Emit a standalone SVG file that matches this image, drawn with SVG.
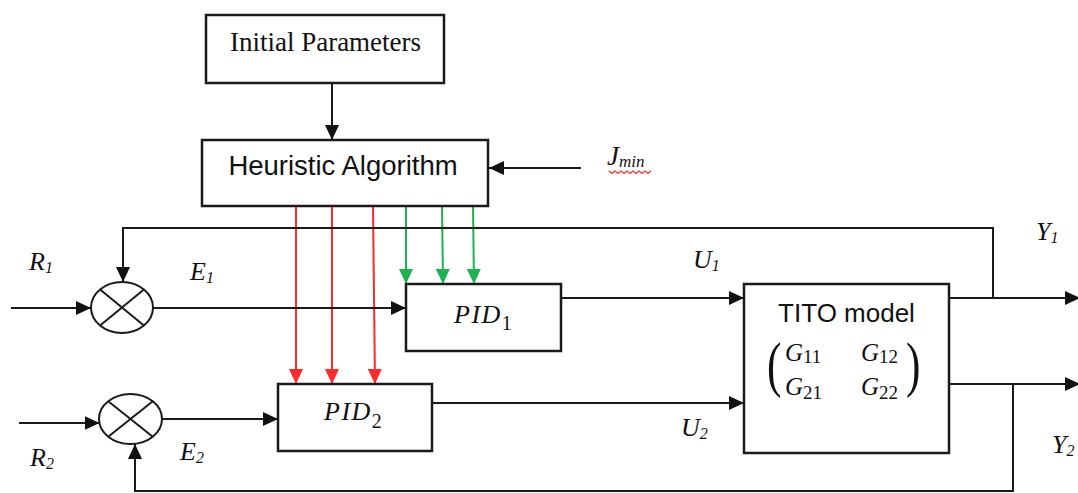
<svg xmlns="http://www.w3.org/2000/svg" width="1078" height="493" viewBox="0 0 1078 493">
<style>
.box{fill:#fff;stroke:#1a1a1a;stroke-width:2.5}
.ln{fill:none;stroke:#1a1a1a;stroke-width:2}
.red{fill:none;stroke:#ff2a2a;stroke-width:2}
.grn{fill:none;stroke:#1db350;stroke-width:2}
.serif{font-family:"Liberation Serif","Times New Roman",serif;fill:#111}
.sans{font-family:"Liberation Sans",Arial,sans-serif;fill:#111}
.it{font-style:italic}
</style>
<defs>
<marker id="ab" viewBox="0 0 15 14" refX="15" refY="7" markerWidth="15" markerHeight="14" orient="auto" markerUnits="userSpaceOnUse"><path d="M0,0 L15,7 L0,14 z" fill="#111"/></marker>
<marker id="ar" viewBox="0 0 15 14" refX="15" refY="7" markerWidth="15" markerHeight="14" orient="auto" markerUnits="userSpaceOnUse"><path d="M0,0 L15,7 L0,14 z" fill="#ff2a2a"/></marker>
<marker id="ag" viewBox="0 0 15 14" refX="15" refY="7" markerWidth="15" markerHeight="14" orient="auto" markerUnits="userSpaceOnUse"><path d="M0,0 L15,7 L0,14 z" fill="#1db350"/></marker>
</defs>
<rect width="1078" height="493" fill="#fff"/>

<g id="connectors">
<line class="ln" x1="332" y1="83" x2="332" y2="140" marker-end="url(#ab)"/>
<line class="ln" x1="581" y1="168" x2="489" y2="168" marker-end="url(#ab)"/>
<line class="red" x1="296" y1="206" x2="296" y2="384" marker-end="url(#ar)"/>
<line class="red" x1="332" y1="206" x2="332" y2="384" marker-end="url(#ar)"/>
<line class="red" x1="373" y1="206" x2="375" y2="384" marker-end="url(#ar)"/>
<line class="grn" x1="406" y1="206" x2="406" y2="284" marker-end="url(#ag)"/>
<line class="grn" x1="442" y1="206" x2="443" y2="284" marker-end="url(#ag)"/>
<line class="grn" x1="473" y1="206" x2="474" y2="284" marker-end="url(#ag)"/>
<line class="ln" x1="11" y1="308" x2="91" y2="308" marker-end="url(#ab)"/>
<line class="ln" x1="153" y1="308" x2="406" y2="308" marker-end="url(#ab)"/>
<line class="ln" x1="19" y1="423" x2="99.5" y2="423" marker-end="url(#ab)"/>
<line class="ln" x1="162" y1="419" x2="278" y2="419" marker-end="url(#ab)"/>
<line class="ln" x1="561" y1="298" x2="744" y2="298" marker-end="url(#ab)"/>
<line class="ln" x1="432" y1="403" x2="744" y2="403" marker-end="url(#ab)"/>
<line class="ln" x1="949" y1="298" x2="1080" y2="298" marker-end="url(#ab)"/>
<line class="ln" x1="949" y1="384" x2="1080" y2="384" marker-end="url(#ab)"/>
<path class="ln" d="M993,298 V228 H123 V282" marker-end="url(#ab)"/>
<path class="ln" d="M1013,384 V491 H135 V444" marker-end="url(#ab)"/>
</g>

<g id="initial-parameters">
<rect class="box" x="206" y="15" width="238" height="68"/>
<text class="serif" x="325.5" y="51" font-size="27" text-anchor="middle">Initial Parameters</text>
</g>

<g id="heuristic-algorithm">
<rect class="box" x="202" y="140" width="286" height="66"/>
<text class="sans" x="343" y="175" font-size="27.5" text-anchor="middle">Heuristic Algorithm</text>
</g>

<g id="jmin">
<text class="serif it" x="607" y="165" font-size="27">J<tspan font-size="17" dy="2">min</tspan></text>
<path d="M609,171 l3,2.5 l3,-2.5 l3,2.5 l3,-2.5 l3,2.5 l3,-2.5 l3,2.5 l3,-2.5 l3,2.5 l3,-2.5 l3,2.5 l3,-2.5 l3,2.5 l3,-2.5" fill="none" stroke="#ff2a2a" stroke-width="1.2"/>
</g>

<g id="sum1">
<ellipse class="ln" cx="122" cy="307.5" rx="31" ry="25.5"/>
<line class="ln" x1="100.1" y1="289.5" x2="143.9" y2="325.5"/>
<line class="ln" x1="100.1" y1="325.5" x2="143.9" y2="289.5"/>
</g>

<g id="sum2">
<ellipse class="ln" cx="130.5" cy="419" rx="31.5" ry="25"/>
<line class="ln" x1="108.2" y1="401.3" x2="152.8" y2="436.7"/>
<line class="ln" x1="108.2" y1="436.7" x2="152.8" y2="401.3"/>
</g>

<g id="pid1">
<rect class="box" x="406" y="284" width="155" height="67"/>
<text class="serif it" x="454" y="323" font-size="26" letter-spacing="1.5">PID<tspan font-style="normal" font-size="20" dy="7">1</tspan></text>
</g>

<g id="pid2">
<rect class="box" x="278" y="384" width="154" height="67"/>
<text class="serif it" x="324" y="420" font-size="26" letter-spacing="1.5">PID<tspan font-style="normal" font-size="20" dy="8">2</tspan></text>
</g>

<g id="tito-model">
<rect class="box" x="744" y="284" width="205" height="169"/>
<text class="sans" x="846.5" y="322" font-size="26" text-anchor="middle">TITO model</text>
<text class="serif" x="767" y="385" font-size="62" transform="translate(767,385) scale(0.7,1) translate(-767,-385)">(</text>
<text class="serif" x="906" y="385" font-size="62" transform="translate(906,385) scale(0.7,1) translate(-906,-385)">)</text>
<text class="serif it" x="785" y="361" font-size="25">G<tspan font-style="normal" font-size="19" dy="2">11</tspan></text>
<text class="serif it" x="861" y="361" font-size="25">G<tspan font-style="normal" font-size="19" dy="2">12</tspan></text>
<text class="serif it" x="785" y="395" font-size="25">G<tspan font-style="normal" font-size="19" dy="4">21</tspan></text>
<text class="serif it" x="861" y="395" font-size="25">G<tspan font-style="normal" font-size="19" dy="4">22</tspan></text>
</g>

<g id="labels">
<text class="serif it" x="29" y="270" font-size="26">R<tspan font-size="16" dy="3">1</tspan></text>
<text class="serif it" x="190" y="280" font-size="26">E<tspan font-size="16" dy="3">1</tspan></text>
<text class="serif it" x="30" y="466" font-size="26">R<tspan font-size="16" dy="3">2</tspan></text>
<text class="serif it" x="180" y="460" font-size="26">E<tspan font-size="16" dy="3">2</tspan></text>
<text class="serif it" x="693" y="268" font-size="26">U<tspan font-size="16" dy="3">1</tspan></text>
<text class="serif it" x="681" y="436" font-size="26">U<tspan font-size="16" dy="3">2</tspan></text>
<text class="serif it" x="1036" y="240" font-size="26">Y<tspan font-size="16" dy="3">1</tspan></text>
<text class="serif it" x="1052" y="453" font-size="26">Y<tspan font-size="16" dy="3">2</tspan></text>
</g>
</svg>
